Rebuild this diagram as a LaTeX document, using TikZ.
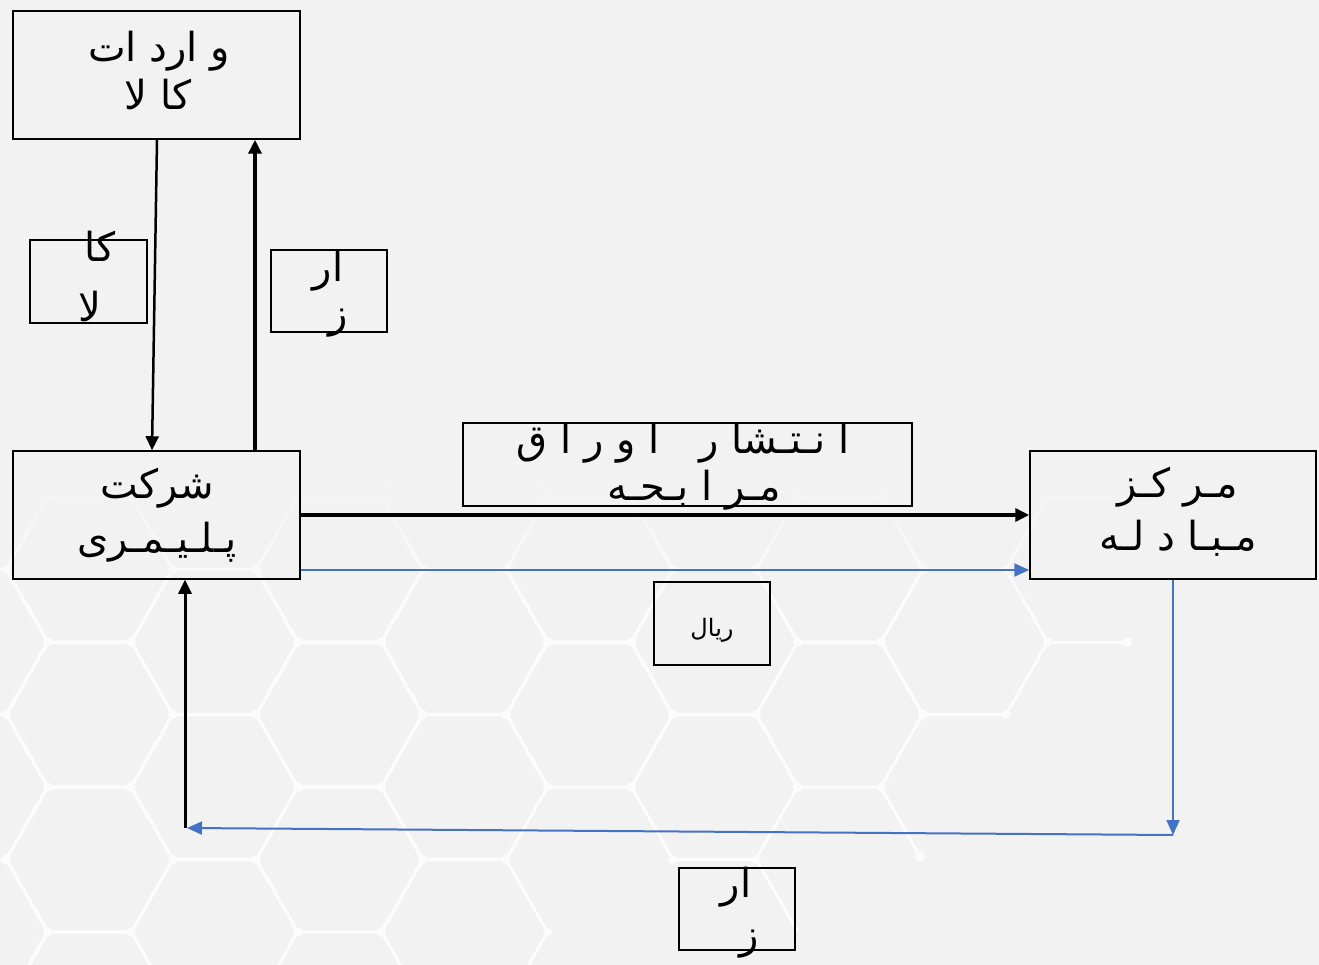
\documentclass[tikz,border=0pt]{standalone}
\usepackage{fontspec}
\newfontfamily\arabicfont[Script=Arabic]{DejaVu Sans}
\TeXXeTstate=1
\usetikzlibrary{arrows.meta,calc,fadings}
\newcommand\pers[1]{\beginR #1\endR}
\definecolor{bg}{HTML}{F2F2F2}
\definecolor{cblue}{HTML}{4472C4}
\colorlet{hexcol}{white!75!bg}
\newcommand\hexat[2]{%
  \draw[hexline] ({#1-41.5},{#2-72.5}) -- ({#1+41.5},{#2-72.5}) -- ({#1+83},{#2}) -- ({#1+41.5},{#2+72.5}) -- ({#1-41.5},{#2+72.5}) -- ({#1-83},{#2}) -- cycle;
  \foreach \dx/\dy in {-41.5/-72.5,41.5/-72.5,83/0,41.5/72.5,-41.5/72.5,-83/0}
    {\fill[hexcol] ({#1+\dx},{#2+\dy}) circle (4.5);}
}
\begin{document}
\begin{tikzpicture}[x=1pt,y=-1pt,
  box/.style={draw=black,line width=1.5pt,inner sep=0pt},
  txt/.style={font=\arabicfont\fontsize{40}{50}\selectfont,inner sep=0pt,anchor=base},
  smalltxt/.style={font=\arabicfont\fontsize{24}{28}\selectfont,inner sep=0pt,anchor=base},
  blk/.style={draw=black,-{Triangle[width=13pt,length=14pt]}},
  blu/.style={draw=cblue,line width=2pt,-{Triangle[width=13pt,length=15pt]}},
  hexline/.style={draw=hexcol,line width=3pt,line join=round}
]
\useasboundingbox (0,0) rectangle (1319,965);
\fill[bg] (0,0) rectangle (1319,965);
% background hexagon pattern
\begin{scope}
\clip (0,470) rectangle (1319,965);
\foreach \cx/\cy in {-35.5/497,214.5/497,464.5/497,714.5/497,964.5/497,
  89.5/569.5,339.5/569.5,589.5/569.5,839.5/569.5,
  -35.5/642,214.5/642,464.5/642,714.5/642,964.5/642,
  89.5/714.5,339.5/714.5,589.5/714.5,839.5/714.5,
  -35.5/787,214.5/787,464.5/787,714.5/787,
  89.5/859.5,339.5/859.5,
  -35.5/932,214.5/932,464.5/932,
  89.5/1004.5}
  {\hexat{\cx}{\cy}}
\draw[hexline] (1047.5,497) -- (1127,497);
\draw[hexline] (1047.5,642) -- (1127,642);
\draw[hexline] (881,787) -- (920,857);
\draw[hexline] (756.5,859.5) -- (798,932);
\fill[hexcol] (1127,497) circle (5);
\fill[hexcol] (1127,642) circle (5);
\fill[hexcol] (920,857) circle (5);
\end{scope}
\fill[bg,path fading=south] (0,466) rectangle (1319,600);
% boxes
\node[box,minimum width=287pt,minimum height=128pt] (imp) at (156.5,75) {};
\node[box,minimum width=117pt,minimum height=83pt] (lkala) at (88.5,281.5) {};
\node[box,minimum width=116pt,minimum height=82pt] (larz) at (329,291) {};
\node[box,minimum width=287pt,minimum height=128pt] (sh) at (156.5,515) {};
\node[box,minimum width=449pt,minimum height=83pt] (ent) at (687.5,464.5) {};
\node[box,minimum width=286pt,minimum height=128pt] (mk) at (1173,515) {};
\node[box,minimum width=116pt,minimum height=83pt] (rial) at (712,623.5) {};
\node[box,minimum width=116pt,minimum height=82pt] (barz) at (737,909) {};
% texts
\node[txt] (imp1) at (159,62) {\pers{و ارد ات}};
\node[txt] (imp2) at (158,110) {\pers{کا لا}};
\node[txt] (lk1) at (100,262) {\pers{کا}};
\node[txt] (lk2) at (90,322) {\pers{لا}};
\node[txt] (la1) at (328,282) {\pers{ار}};
\node[txt] (la2) at (338,327) {\pers{ز}};
\node[txt] (sh1) at (157,498) {\pers{شرکت}};
\node[txt] (sh2) at (157,552) {\pers{پـلـیـمـری}};
\node[txt] (en1) at (683,453) {\pers{ا نـتـشا ر\quad ا و ر ا ق}};
\node[txt] (en2) at (694,500) {\pers{مـر ا بـحـه}};
\node[txt] (mk1) at (1178,497) {\pers{مـر کـز}};
\node[txt] (mk2) at (1178,550) {\pers{مـبـا د لـه}};
\node[smalltxt] (ri1) at (712,636) {\pers{ریال}};
\node[txt] (ba1) at (736,897) {\pers{ار}};
\node[txt] (ba2) at (749,948) {\pers{ز}};
% connectors
\coordinate (cr) at (1173,835);
\coordinate (cl) at (187,828);
\coordinate (cb) at (185,828);
\draw[blk,line width=2.5pt] ($(imp.south)+(0.5,0)$) -- ($(sh.north)+(-4.5,0)$);
\draw[blk,line width=3.5pt] ($(sh.north)+(98.5,0)$) -- ($(imp.south)+(98.5,0)$);
\draw[blk,line width=3.5pt] (sh.east) -- (mk.west);
\draw[blu] ($(sh.east)+(0,55)$) -- ($(mk.west)+(0,55)$);
\draw[blu] (mk.south) -- (cr);
\draw[blu] (cr) -- (cl);
\draw[blk,line width=3pt] (cb) -- ($(sh.south)+(28.5,0)$);
\end{tikzpicture}
\end{document}
